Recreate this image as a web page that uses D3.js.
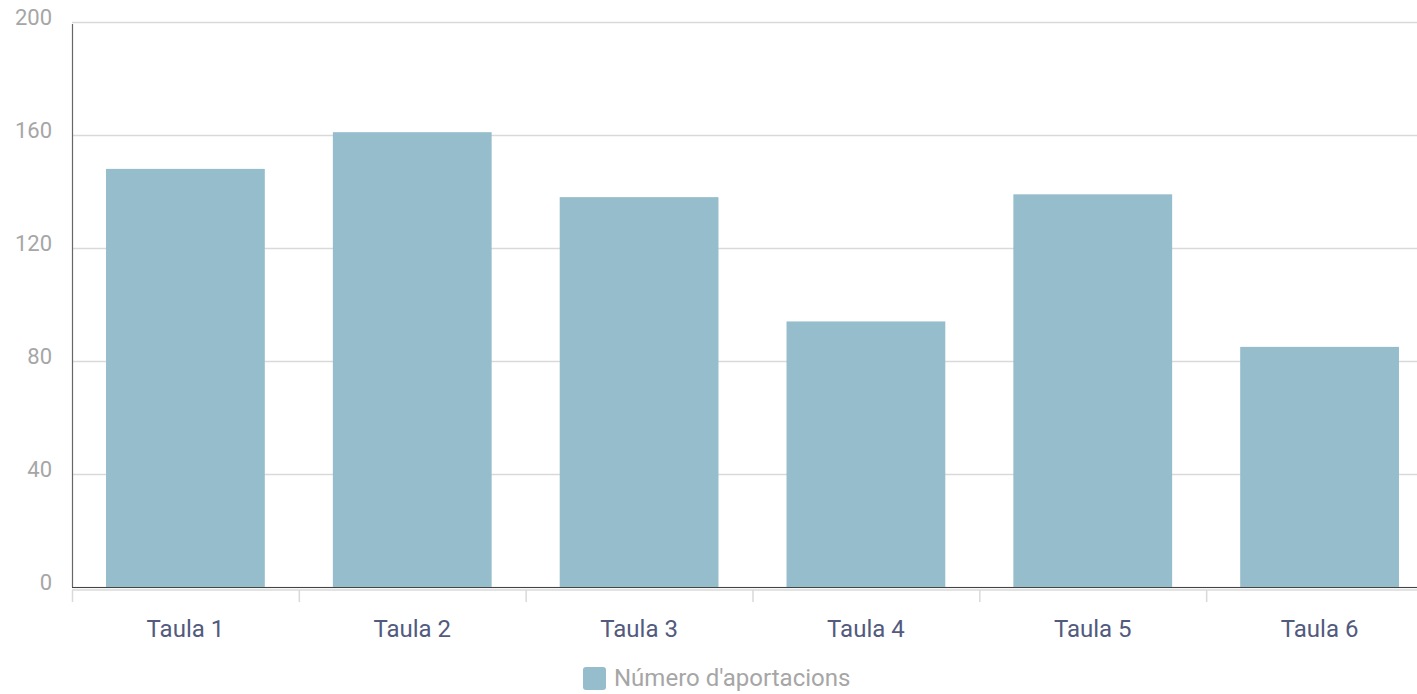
<!DOCTYPE html>
<html>
<head>
<meta charset="utf-8">
<script src="https://cdn.jsdelivr.net/npm/d3@7"></script>
<style>
  body { margin: 0; background: #fff; }
  text { font-family: Roboto, "Noto Sans", sans-serif; }
</style>
</head>
<body>
<div id="chart"></div>
<script>
// data
var categories = ["Taula 1", "Taula 2", "Taula 3", "Taula 4", "Taula 5", "Taula 6"];
var values = [148, 161, 138, 94, 139, 85];
var yTicks = [0, 40, 80, 120, 160, 200];
var seriesName = "Número d'aportacions";

var width = 1417, height = 694;
var margin = { top: 22, left: 72, bottom: 107 };
var barColor = "#95bdcb";

var svg = d3.select("#chart").append("svg")
    .attr("width", width)
    .attr("height", height);

var x = d3.scaleBand()
    .domain(categories)
    .range([margin.left, 1433])
    .paddingInner(0.3)
    .paddingOuter(0.15);

var y = d3.scaleLinear()
    .domain([0, 200])
    .range([height - margin.bottom, margin.top]);

// gridlines
svg.append("g").selectAll("line")
    .data(yTicks)
    .enter().append("line")
    .attr("x1", margin.left)
    .attr("x2", width)
    .attr("y1", function(d) { return y(d) + 0.5; })
    .attr("y2", function(d) { return y(d) + 0.5; })
    .style("stroke", "#d9d9d9")
    .style("stroke-width", 1.5);

// y labels
svg.append("g").selectAll("text")
    .data(yTicks)
    .enter().append("text")
    .attr("x", 52)
    .attr("y", function(d) { return y(d) + 3; })
    .attr("text-anchor", "end")
    .style("font-size", "22px")
    .style("fill", "#a6a6a6")
    .text(function(d) { return d; });

// bars
svg.append("g").selectAll("rect")
    .data(values)
    .enter().append("rect")
    .attr("x", function(d, i) { return x(categories[i]); })
    .attr("y", function(d) { return y(d); })
    .attr("width", x.bandwidth())
    .attr("height", function(d) { return y(0) - y(d); })
    .style("fill", barColor);

// light x axis line + ticks below baseline
var step = x.step();
svg.append("line")
    .attr("x1", margin.left).attr("x2", width)
    .attr("y1", y(0) + 3).attr("y2", y(0) + 3)
    .style("stroke", "#e3e3e3").style("stroke-width", 2);
svg.append("g").selectAll("line")
    .data(categories)
    .enter().append("line")
    .attr("x1", function(d) { return x(d) - step * 0.15 + 0.5; })
    .attr("x2", function(d) { return x(d) - step * 0.15 + 0.5; })
    .attr("y1", y(0) + 3)
    .attr("y2", y(0) + 15)
    .style("stroke", "#d9d9d9")
    .style("stroke-width", 1.5);

// dark baseline and y axis line
svg.append("line")
    .attr("x1", margin.left).attr("x2", width)
    .attr("y1", y(0) + 0.5).attr("y2", y(0) + 0.5)
    .style("stroke", "#444").style("stroke-width", 1.2);
svg.append("line")
    .attr("x1", margin.left + 0.5).attr("x2", margin.left + 0.5)
    .attr("y1", y(200) + 2).attr("y2", y(0))
    .style("stroke", "#666").style("stroke-width", 1.2);

// x labels
svg.append("g").selectAll("text")
    .data(categories)
    .enter().append("text")
    .attr("x", function(d) { return x(d) + x.bandwidth() / 2; })
    .attr("y", 637)
    .attr("text-anchor", "middle")
    .style("font-size", "24px")
    .style("fill", "#525a7e")
    .text(function(d) { return d; });

// legend
var legend = svg.append("g");
legend.append("rect")
    .attr("x", 583).attr("y", 667)
    .attr("width", 23).attr("height", 23)
    .attr("rx", 3)
    .style("fill", barColor);
legend.append("text")
    .attr("x", 614).attr("y", 686)
    .style("font-size", "24px")
    .style("fill", "#a6a6a6")
    .text(seriesName);
</script>
</body>
</html>
